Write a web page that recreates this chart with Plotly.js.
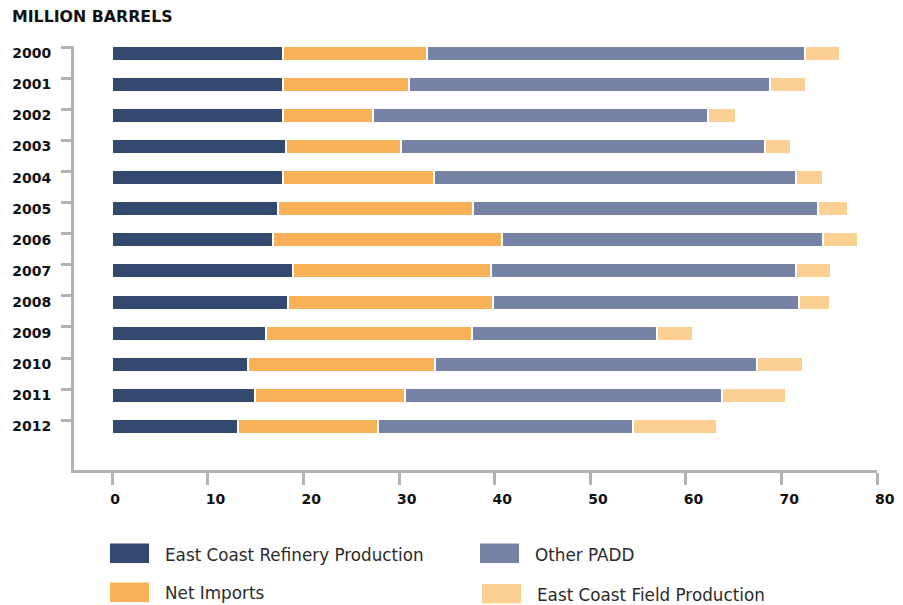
<!DOCTYPE html>
<html>
<head>
<meta charset="utf-8">
<script src="https://cdn.plot.ly/plotly-3.0.1.min.js"></script>
<style>
  html, body { margin: 0; padding: 0; background: #ffffff; }
  #chart { width: 903px; height: 605px; }
</style>
</head>
<body>
<div id="chart"></div>
<script>
// ---- data (million barrels) ----
const years = ['2000','2001','2002','2003','2004','2005','2006','2007','2008','2009','2010','2011','2012'];
const refineryProduction = [17.9, 17.9, 17.9, 18.2, 17.9, 17.3, 16.8, 18.9, 18.4, 16.1, 14.2, 14.9, 13.2];
const netImports        = [15.0, 13.1, 9.4, 12.0, 15.8, 20.4, 24.0, 20.7, 21.4, 21.5, 19.6, 15.7, 14.6];
const otherPadd         = [39.6, 37.8, 35.0, 38.1, 37.8, 36.1, 33.5, 31.9, 32.0, 19.4, 33.6, 33.2, 26.7];
const fieldProduction   = [3.6, 3.8, 3.0, 2.7, 2.9, 3.2, 3.7, 3.7, 3.3, 3.8, 4.9, 6.7, 8.8];
const seriesNames = ['East Coast Refinery Production', 'Net Imports', 'Other PADD', 'East Coast Field Production'];
const xTicks = [0, 10, 20, 30, 40, 50, 60, 70, 80];
const unitLabel = 'MILLION BARRELS';

// ---- styles ----
const colors = ['#34496f', '#f9b157', '#7683a6', '#fccf93'];
const axisGrey = '#b2b2b6';
const W = 903, H = 605;
const M = { l: 74, r: 26, t: 47, b: 135 };
const tickOffset = 0.2;

const idx = years.map((_, i) => i);
const seriesValues = [refineryProduction, netImports, otherPadd, fieldProduction];

const traces = seriesValues.map((vals, k) => ({
  type: 'bar',
  orientation: 'h',
  name: seriesNames[k],
  x: vals,
  y: idx,
  width: 0.48,
  marker: { color: colors[k], line: { color: '#ffffff', width: 2 } },
  showlegend: false,
  hovertemplate: '%{x}<extra>' + seriesNames[k] + '</extra>'
}));

// empty helper trace so the tick-mark axis (y2) is drawn
traces.push({
  type: 'scatter', mode: 'markers', x: [null], y: [null],
  yaxis: 'y2', showlegend: false, hoverinfo: 'skip'
});

// pixel -> paper helpers for legend placement
const pw = W - M.l - M.r, ph = H - M.t - M.b;
const px = v => (v - M.l) / pw;
const py = v => (H - M.b - v) / ph;

const legendPos = [
  { sx: 110, sy: 543.5, tx: 163, ty: 555 },
  { sx: 110, sy: 582.5, tx: 163, ty: 593 },
  { sx: 480, sy: 543.5, tx: 533, ty: 555 },
  { sx: 482, sy: 584,   tx: 535, ty: 595 }
];

const shapes = legendPos.map((p, k) => ({
  type: 'rect', xref: 'paper', yref: 'paper',
  x0: px(p.sx), x1: px(p.sx + 39), y0: py(p.sy), y1: py(p.sy + 19.5),
  fillcolor: colors[k], line: { width: 0 }
}));

const annotations = legendPos.map((p, k) => ({
  xref: 'paper', yref: 'paper', x: px(p.tx), y: py(p.ty),
  xanchor: 'left', yanchor: 'middle', showarrow: false,
  text: seriesNames[k],
  font: { family: 'DejaVu Sans', size: 16.8, color: '#2a2a2a' }
}));

const yRange = [years.length + 0.4, -tickOffset];

const layout = {
  width: W, height: H,
  margin: M,
  paper_bgcolor: '#ffffff', plot_bgcolor: '#ffffff',
  barmode: 'stack',
  bargap: 0,
  title: {
    text: unitLabel,
    x: 12 / W, xanchor: 'left', xref: 'container',
    y: 1 - 16 / H, yanchor: 'middle', yref: 'container',
    font: { family: 'DejaVu Sans', size: 15.8, weight: 'bold', color: '#111111' }
  },
  xaxis: {
    range: [-4, 80],
    tickvals: xTicks,
    ticktext: xTicks.map(String),
    ticks: 'outside', ticklen: 12, tickwidth: 3, tickcolor: axisGrey,
    ticklabelposition: 'outside right',
    ticklabelstandoff: 14,
    ticklabelshift: -5,
    showline: true, linecolor: axisGrey, linewidth: 3,
    showgrid: false, zeroline: false,
    tickfont: { family: 'DejaVu Sans', size: 14, weight: 'bold', color: '#111111' },
    fixedrange: true
  },
  yaxis: {
    range: yRange,
    tickvals: idx,
    ticktext: years,
    ticks: '',
    ticklabelstandoff: 17,
    showline: true, linecolor: axisGrey, linewidth: 3,
    showgrid: false, zeroline: false,
    tickfont: { family: 'DejaVu Sans', size: 14, weight: 'bold', color: '#111111' },
    fixedrange: true
  },
  yaxis2: {
    overlaying: 'y', anchor: 'x', side: 'left',
    range: yRange,
    tickvals: idx.map(i => i - tickOffset),
    ticktext: years.map(() => ''),
    ticks: 'outside', ticklen: 12, tickwidth: 3, tickcolor: axisGrey,
    showticklabels: false,
    showline: false, showgrid: false, zeroline: false,
    fixedrange: true
  },
  shapes: shapes,
  annotations: annotations
};

Plotly.newPlot('chart', traces, layout, { displayModeBar: false, staticPlot: true });
</script>
</body>
</html>
